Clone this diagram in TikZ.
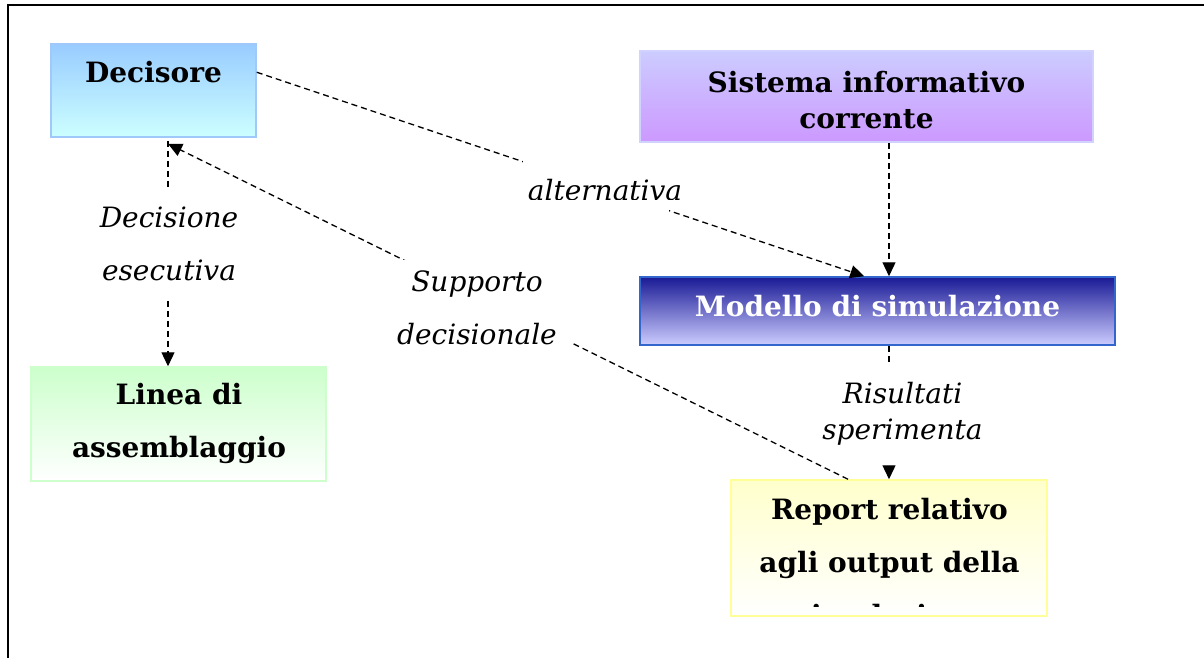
\documentclass[tikz,border=0pt]{standalone}
\usepackage{fontspec}
\setmainfont{DejaVu Serif}
\usetikzlibrary{arrows.meta}

\definecolor{decTop}{RGB}{153,204,255}
\definecolor{decBot}{RGB}{204,255,255}
\definecolor{decLine}{RGB}{160,200,250}
\definecolor{sisTop}{RGB}{204,204,255}
\definecolor{sisBot}{RGB}{204,153,255}
\definecolor{sisLine}{RGB}{210,210,255}
\definecolor{modTop}{RGB}{26,26,150}
\definecolor{modBot}{RGB}{204,204,255}
\definecolor{modLine}{RGB}{51,102,204}
\definecolor{linTop}{RGB}{204,255,204}
\definecolor{linLine}{RGB}{204,255,204}
\definecolor{repTop}{RGB}{255,255,204}
\definecolor{repLine}{RGB}{255,255,153}

\begin{document}
\begin{tikzpicture}[x=1pt,y=-1pt,
  box/.style={draw, line width=1.5pt, inner sep=0pt, shading angle=0},
  conn/.style={line width=1.3pt, dash pattern=on 6pt off 4pt,
    -{Triangle[length=14pt,width=13pt]}},
  boxtext/.style={font=\fontsize{28}{53}\selectfont\bfseries, align=center, inner sep=0pt},
  lbl/.style={font=\fontsize{28}{53}\selectfont\itshape, align=center, inner sep=0pt},
]
\useasboundingbox (0,0) rectangle (1204,658);
\fill[white] (0,0) rectangle (1204,658);

% open frame: top and left edges
\draw[line width=2pt] (8,658) -- (8,5.5) -- (1204,5.5);

% boxes
\node[box, draw=decLine, top color=decTop, bottom color=decBot,
      minimum width=205pt, minimum height=93pt] (dec) at (153.5,90.5) {};
\node[box, draw=sisLine, top color=sisTop, bottom color=sisBot,
      minimum width=453pt, minimum height=91pt] (sis) at (866.5,96.5) {};
\node[box, draw=modLine, top color=modTop, bottom color=modBot,
      minimum width=475pt, minimum height=68pt] (mod) at (877.5,311) {};
\node[box, draw=linLine, top color=linTop, bottom color=white,
      minimum width=295pt, minimum height=114pt] (lin) at (178.5,424) {};
\node[box, draw=repLine, top color=repTop, bottom color=white,
      minimum width=316pt, minimum height=136pt] (rep) at (889,548) {};

% box texts
\node[boxtext, anchor=base] (decT) at (153.5,83) {Decisore};
\node[boxtext, font=\fontsize{28}{36}\selectfont\bfseries] (sisT) at (866.5,100) {Sistema informativo\\corrente};
\node[boxtext, text=white, anchor=base] (modT) at (877.5,316) {Modello di simulazione};
\node[boxtext] (linT) at (179,423) {Linea di\\assemblaggio};
\begin{scope}
  \clip (rep.north west) rectangle (1047,606.5);
  \node[boxtext] (repT) at (889.5,562) {Report relativo\\agli output della\\simulazione};
\end{scope}

% connectors
\draw[conn] ([yshift=-29pt]dec.north east) -- ([xshift=225pt]mod.north west);
\draw[conn] ([xshift=22.5pt]sis.south) -- ([xshift=11.5pt]mod.north);
\draw[conn] ([xshift=14.5pt,yshift=-3pt]dec.south) -- ([xshift=-10.5pt]lin.north);
\draw[conn] ([xshift=-41pt]rep.north) -- ([xshift=14.5pt,yshift=-6pt]dec.south);
\draw[conn] ([xshift=11.5pt]mod.south) -- (rep.north);

% connector labels
\node[fill=white, minimum width=146pt, minimum height=52pt, inner sep=0pt] (altBg) at (596,186) {};
\begin{scope}
  \clip (500,150) rectangle (700,199);
  \node[lbl, anchor=base] (altT) at (605,200) {alternativa};
\end{scope}
\node[lbl, fill=white, minimum height=108pt] (decL) at (169,244) {Decisione\\esecutiva};
\node[lbl, fill=white, minimum width=190pt, minimum height=96pt] (supL) at (477,308) {Supporto\\decisionale};
\node[lbl, fill=white, minimum height=96pt, font=\fontsize{28}{36}\selectfont\itshape] (risL) at (902.5,414) {Risultati\\sperimenta};
\end{tikzpicture}
\end{document}
